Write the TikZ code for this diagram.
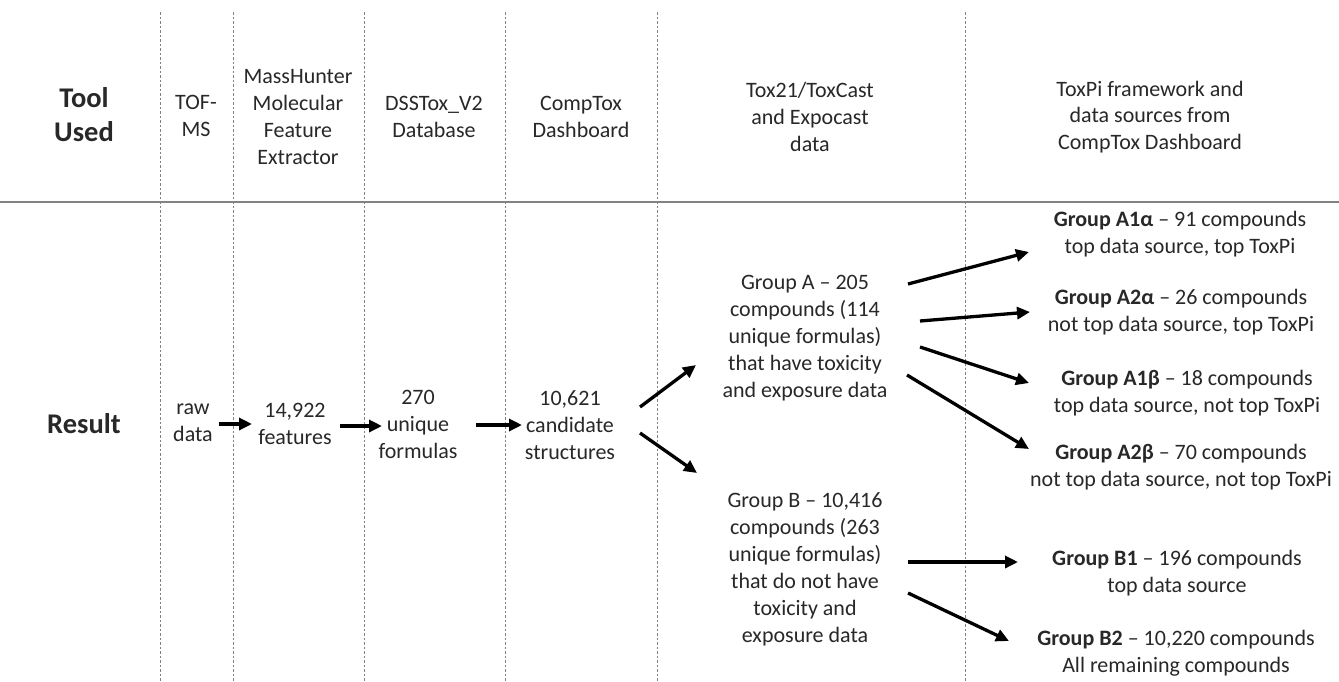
\documentclass[tikz,border=0pt]{standalone}
\usepackage{fontspec}
\setmainfont{Carlito}
\usetikzlibrary{arrows.meta}
\definecolor{tc}{RGB}{40,40,40}
\definecolor{sepc}{RGB}{130,130,130}
\begin{document}
\begin{tikzpicture}[x=1pt,y=-1pt,
  txt/.style={align=center, font=\fontsize{22}{27}\selectfont, text=tc, inner sep=0pt},
  head/.style={align=center, font=\fontsize{22}{26.7}\selectfont, text=tc, inner sep=0pt},
  big/.style={align=center, font=\bfseries\fontsize{28.5}{34}\selectfont, text=tc, inner sep=0pt},
  arr/.style={line width=3.3pt, draw=black, -{Triangle[length=13pt,width=12pt]}},
  sepline/.style={draw=sepc, line width=0.8pt, dash pattern=on 2.5pt off 2pt},
  rule/.style={draw=sepc, line width=2pt}]
\useasboundingbox (0,0) rectangle (1339,681);
\fill[white] (0,0) rectangle (1339,681);
% separators
\foreach \xx in {160,233,364,505,657,965} \draw[sepline] (\xx,12) -- (\xx,681);
\draw[rule] (0,202) -- (1339,202);
% header
\node[big] (tool) at (84,115) {Tool\\Used};
\node[head] (tof) at (196,116) {TOF-\\MS};
\node[head] (mass) at (298,117) {MassHunter\\Molecular\\Feature\\Extractor};
\node[head] (dss) at (434,117) {DSSTox\_V2\\Database};
\node[head] (ctd) at (581,117) {CompTox\\Dashboard};
\node[head] (tox21) at (810,117) {Tox21/ToxCast\\and Expocast\\data};
\node[head] (toxpi) at (1150,117) {ToxPi framework and\\data sources from\\CompTox Dashboard};
% result row
\node[big] (result) at (84,424) {Result};
\node[txt] (raw) at (193,423) {raw\\data};
\node[txt] (feat) at (295,424) {14,922\\features};
\node[txt] (uniq) at (418,424) {270\\unique\\formulas};
\node[txt] (cand) at (570,425) {10,621\\candidate\\structures};
\node[txt] (grpA) at (805,338) {Group A -- 205\\compounds (114\\unique formulas)\\that have toxicity\\and exposure data};
\node[txt] (grpB) at (805,569) {Group B -- 10,416\\compounds (263\\unique formulas)\\that do not have\\toxicity and\\exposure data};
\node[txt] (A1a) at (1180,234) {\textbf{Group A1α} -- 91 compounds\\top data source, top ToxPi};
\node[txt] (A2a) at (1181,312) {\textbf{Group A2α} -- 26 compounds\\not top data source, top ToxPi};
\node[txt] (A1b) at (1187,393) {\textbf{Group A1β} -- 18 compounds\\top data source, not top ToxPi};
\node[txt] (A2b) at (1181,467) {\textbf{Group A2β} -- 70 compounds\\not top data source, not top ToxPi};
\node[txt] (B1) at (1177,573) {\textbf{Group B1} -- 196 compounds\\top data source};
\node[txt] (B2) at (1176,653) {\textbf{Group B2} -- 10,220 compounds\\All remaining compounds};
% arrow end points
\coordinate (r1) at (219,424); \coordinate (r2) at (252,424);
\coordinate (f1) at (340,426); \coordinate (f2) at (382,426);
\coordinate (u1) at (476,425); \coordinate (u2) at (522,425);
\coordinate (c1) at (640,407); \coordinate (c2) at (696,365);
\coordinate (c3) at (640,433); \coordinate (c4) at (697,473);
\coordinate (a1) at (908,284); \coordinate (a2) at (1029,252);
\coordinate (a3) at (920,321); \coordinate (a4) at (1030,312);
\coordinate (a5) at (920,347); \coordinate (a6) at (1029,383);
\coordinate (a7) at (907,375); \coordinate (a8) at (1029,449);
\coordinate (b1) at (908,562); \coordinate (b2) at (1018,562);
\coordinate (b3) at (908,593); \coordinate (b4) at (1009,641);
\draw[arr] (r1) -- (r2);
\draw[arr] (f1) -- (f2);
\draw[arr] (u1) -- (u2);
\draw[arr] (c1) -- (c2);
\draw[arr] (c3) -- (c4);
\draw[arr] (a1) -- (a2);
\draw[arr] (a3) -- (a4);
\draw[arr] (a5) -- (a6);
\draw[arr] (a7) -- (a8);
\draw[arr] (b1) -- (b2);
\draw[arr] (b3) -- (b4);
\end{tikzpicture}
\end{document}
